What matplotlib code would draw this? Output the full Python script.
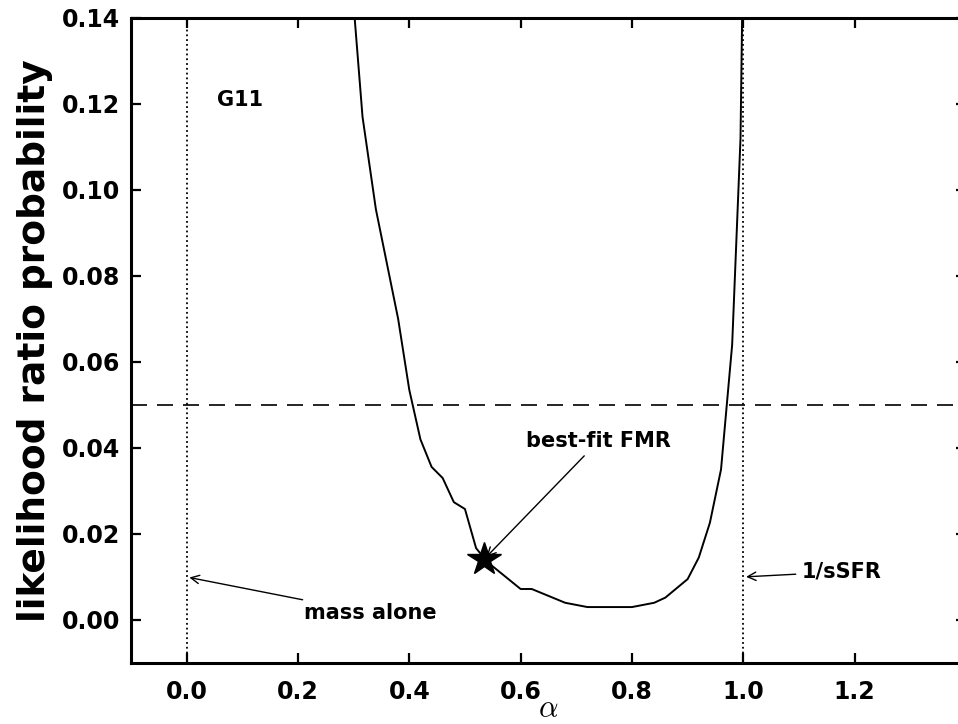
import matplotlib
matplotlib.use("Agg")
import matplotlib.pyplot as plt

# likelihood ratio probability vs alpha
alpha = [0.30, 0.316, 0.34, 0.38, 0.40, 0.42, 0.44, 0.46, 0.48, 0.50, 0.52, 0.54,
         0.60, 0.62, 0.68, 0.72, 0.76, 0.80, 0.84, 0.86, 0.90, 0.92, 0.94, 0.96,
         0.98, 0.995, 1.00]
prob = [0.143, 0.117, 0.0955, 0.070, 0.0535, 0.042, 0.0356, 0.033, 0.0274, 0.0258,
        0.0167, 0.0135, 0.0072, 0.0072, 0.0040, 0.0030, 0.0030, 0.0030, 0.0040,
        0.0052, 0.0095, 0.0145, 0.0226, 0.0350, 0.064, 0.112, 0.16]
best_alpha, best_prob = 0.535, 0.0142
threshold = 0.05
xticks = [0.0, 0.2, 0.4, 0.6, 0.8, 1.0, 1.2]
yticks = [0.00, 0.02, 0.04, 0.06, 0.08, 0.10, 0.12, 0.14]

plt.rcParams["font.weight"] = "bold"
plt.rcParams["axes.linewidth"] = 2.2
plt.rcParams["mathtext.fontset"] = "cm"

fig = plt.figure(figsize=(9.58, 7.24), dpi=100)
ax = fig.add_axes([0.1367, 0.0843, 0.8716, 0.8909])

ax.plot(alpha, prob, color="k", lw=1.4)
ax.plot([best_alpha], [best_prob], marker="*", color="k", ms=25, ls="none")

ax.axhline(threshold, color="k", lw=1.2, ls=(0, (9.6, 6)))
ax.axvline(0.0, color="k", lw=1.3, ls=":")
ax.axvline(1.0, color="k", lw=1.3, ls=":")

ax.text(0.054, 0.121, "G11", fontsize=15, fontweight="bold", ha="left", va="center")
arrow = dict(arrowstyle="->", color="k", lw=1.0)
ax.annotate("best-fit FMR", xy=(best_alpha, best_prob), xytext=(0.74, 0.0416),
            fontsize=15, fontweight="bold", ha="center", va="center", arrowprops=arrow)
ax.annotate("mass alone", xy=(0.0, 0.01), xytext=(0.33, 0.0016),
            fontsize=15, fontweight="bold", ha="center", va="center", arrowprops=arrow)
ax.annotate("1/sSFR", xy=(1.0, 0.01), xytext=(1.176, 0.0112),
            fontsize=15, fontweight="bold", ha="center", va="center", arrowprops=arrow)

ax.set_xlim(-0.1, 1.4)
ax.set_ylim(-0.01, 0.14)
ax.set_xticks(xticks)
ax.set_yticks(yticks)
ax.set_xticklabels([f"{v:.1f}" for v in xticks])
ax.set_yticklabels([f"{v:.2f}" for v in yticks])
ax.tick_params(direction="in", length=7, width=1.6, top=True, right=True, labelsize=17)
ax.tick_params(axis="x", pad=12)
ax.tick_params(axis="y", pad=8)

ax.set_xlabel(r"$\alpha$", fontsize=22, labelpad=-7)
ax.set_ylabel("likelihood ratio probability", fontsize=27, fontweight="bold", labelpad=6)

fig.savefig("out.png", dpi=100)
